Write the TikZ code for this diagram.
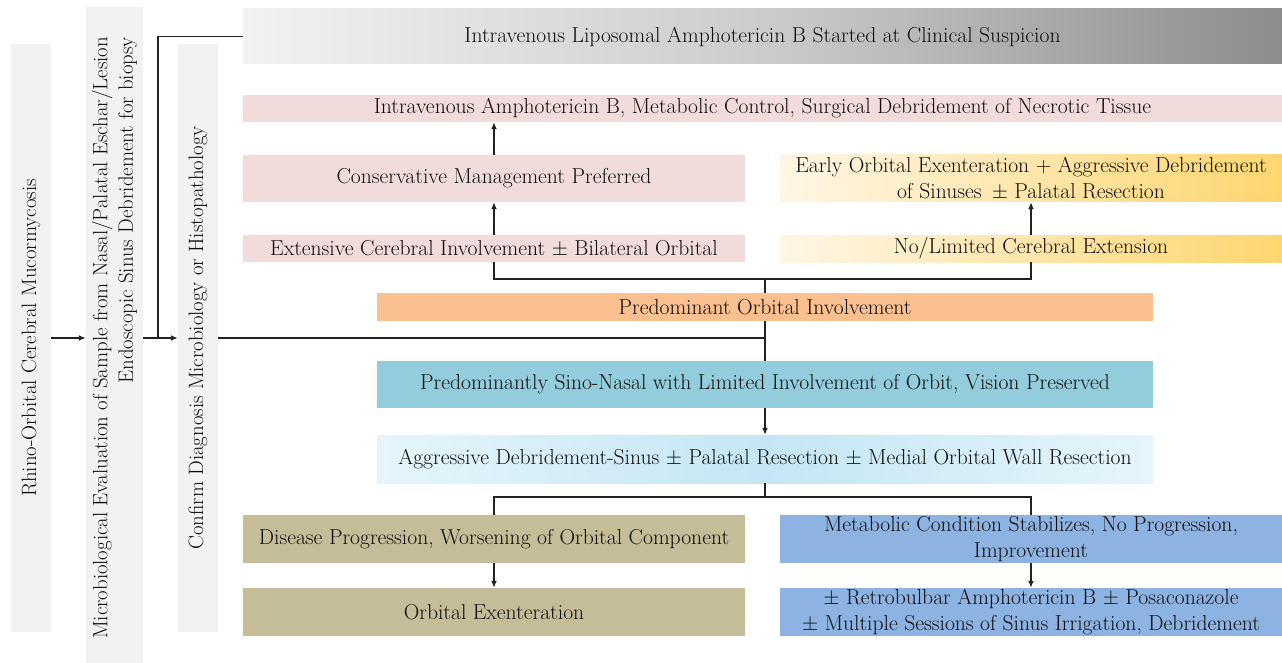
\documentclass[tikz,border=0pt]{standalone}
\usetikzlibrary{arrows.meta}
\definecolor{boxgray}{HTML}{F2F2F2}
\definecolor{rosy}{HTML}{F2DCDB}
\definecolor{apricot}{HTML}{FAC090}
\definecolor{sinoteal}{HTML}{93CDDD}
\definecolor{khaki}{HTML}{C4BD97}
\definecolor{steel}{HTML}{8DB3E2}
\definecolor{cream}{HTML}{FFF6E6}
\definecolor{gold}{HTML}{FDD66F}
\definecolor{paleblue}{HTML}{E6F5FB}
\definecolor{skyblue}{HTML}{C4E6F4}
\definecolor{wirecol}{HTML}{222222}
\begin{document}
\begin{tikzpicture}[x=1pt,y=-1pt,
  every node/.style={font=\fontsize{21.6}{26}\selectfont,inner sep=0pt,text=black!95},
  side/.style={rotate=90,fill=boxgray,align=center,minimum height=40pt,font=\fontsize{20.8}{25.5}\selectfont},
  box/.style={minimum width=502pt,minimum height=47pt,align=center},
  wide/.style={minimum width=776pt,align=center},
  full/.style={minimum width=1039pt},
  yellowbox/.style={box,left color=cream,right color=gold},
  wire/.style={line width=1.4pt,draw=wirecol},
  arr/.style={wire,-{Latex[length=7pt,width=6pt]}}]
\useasboundingbox (0,0) rectangle (1282,663);
% left column
\node[side,minimum width=588pt] (rhino) at (31,338) {Rhino-Orbital Cerebral Mucormycosis};
\node[side,minimum width=662pt,minimum height=57pt,align=right] (micro) at (114.5,338)
  {Microbiological Evaluation of Sample from Nasal/Palatal Eschar/Lesion\\Endoscopic Sinus Debridement for biopsy};
\node[side,minimum width=588pt] (confirm) at (198,338) {Confirm Diagnosis Microbiology or Histopathology};
% top bars
\node[full,minimum height=55pt,left color=boxgray,right color=black!45,middle color=black!20] (ivlipo) at (762.5,36.5)
  {Intravenous Liposomal Amphotericin B Started at Clinical Suspicion};
\node[full,minimum height=27pt,fill=rosy] (ivampho) at (762.5,108.5)
  {Intravenous Amphotericin B, Metabolic Control, Surgical Debridement of Necrotic Tissue};
% orbital branch
\node[box,fill=rosy] (conserv) at (494,178.5) {Conservative Management Preferred};
\node[yellowbox] (early) at (1031,178.5) {Early Orbital Exenteration + Aggressive Debridement\\of Sinuses \,$\pm$ Palatal Resection};
\node[box,minimum height=27pt,fill=rosy] (extens) at (494,248.5) {Extensive Cerebral Involvement $\pm$ Bilateral Orbital};
\node[yellowbox,minimum height=27pt] (nolim) at (1031,248.5) {No/Limited Cerebral Extension};
\node[wide,minimum height=28pt,fill=apricot] (predom) at (765,307) {Predominant Orbital Involvement};
% sino-nasal branch
\node[wide,minimum height=47pt,fill=sinoteal] (sino) at (765,384.5)
  {Predominantly Sino-Nasal with Limited Involvement of Orbit, Vision Preserved};
\node[wide,minimum height=48pt,left color=paleblue,right color=paleblue,middle color=skyblue] (aggr) at (765,459)
  {Aggressive Debridement-Sinus $\pm$ Palatal Resection $\pm$ Medial Orbital Wall Resection};
\node[box,minimum height=48pt,fill=khaki] (disease) at (494,539) {Disease Progression, Worsening of Orbital Component};
\node[box,minimum height=48pt,fill=khaki] (exent) at (494,612) {Orbital Exenteration};
\node[box,minimum height=48pt,fill=steel] (metab) at (1031,539) {Metabolic Condition Stabilizes, No Progression,\\Improvement};
\node[box,minimum height=48pt,fill=steel] (retro) at (1031,612)
  {$\pm$ Retrobulbar Amphotericin B $\pm$ Posaconazole\\$\pm$ Multiple Sessions of Sinus Irrigation, Debridement};
% connectors
\coordinate (split) at (158,338);
\coordinate (upfork) at (765,279);
\coordinate (downfork) at (765,497);
\draw[arr] (rhino.south) -- (micro.north);
\draw[arr] (micro.south) -- (confirm.north);
\draw[wire] (split) |- (ivlipo.west);
\draw[wire] (confirm.south) -| (predom.south);
\draw[wire] (predom.south) -- (sino.north);
\draw[wire] (predom.north) -- (upfork);
\draw[wire] (extens.south) |- (upfork) -| (nolim.south);
\draw[arr] (extens.north) -- (conserv.south);
\draw[arr] (conserv.north) -- (ivampho.south -| conserv.north);
\draw[arr] (nolim.north) -- (early.south);
\draw[arr] (sino.south) -- (aggr.north);
\draw[wire] (aggr.south) -- (downfork);
\draw[wire] (disease.north) |- (downfork) -| (metab.north);
\draw[arr] (disease.south) -- (exent.north);
\draw[arr] (metab.south) -- (retro.north);
\end{tikzpicture}
\end{document}
